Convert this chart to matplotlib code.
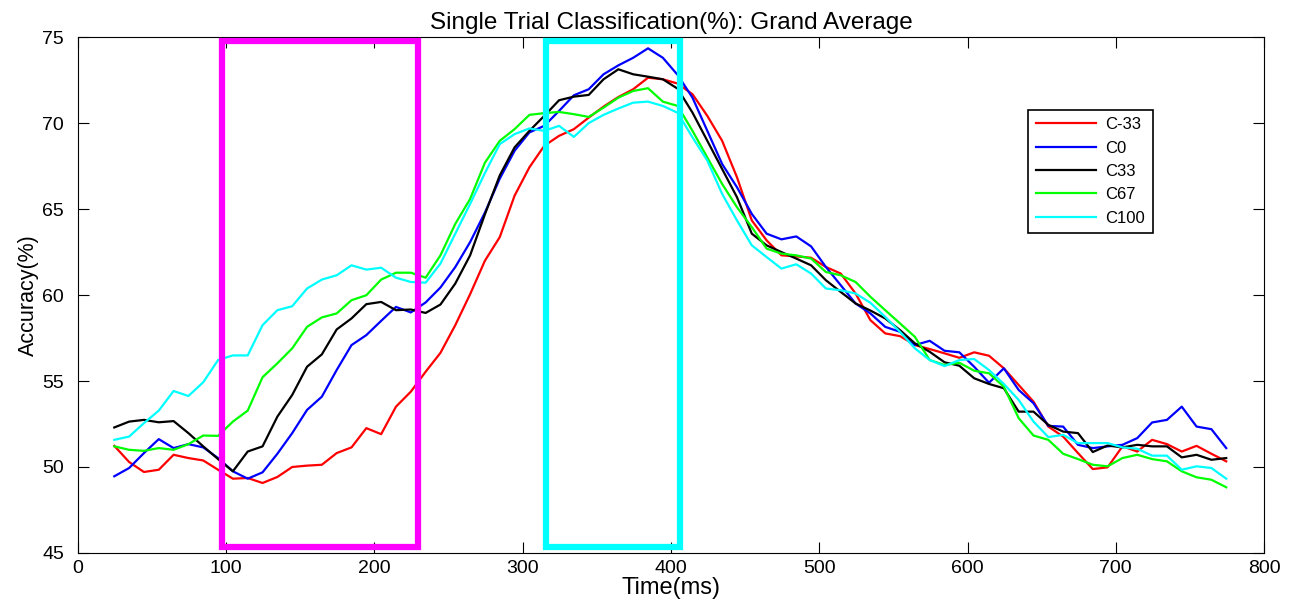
#!/usr/bin/env python

# import libraries
import numpy as np
import matplotlib
matplotlib.use("Agg")
import matplotlib.pyplot as plt
from matplotlib.patches import Rectangle

plt.rcParams['font.family'] = ['Liberation Sans', 'DejaVu Sans']

# time axis: 76 samples, 10 ms apart
time_ms = np.linspace(24.5, 774.5, 76)

# grand average accuracy (%) per condition
c_m33 = [51.23, 50.29, 49.71, 49.84, 50.71, 50.52, 50.38, 49.84, 49.32, 49.36, 49.07, 49.42, 50.0,
         50.08, 50.13, 50.81, 51.14, 52.26, 51.91, 53.51, 54.38, 55.54, 56.64, 58.25, 60.05, 62.0,
         63.37, 65.78, 67.43, 68.68, 69.26, 69.65, 70.32, 70.96, 71.52, 71.97, 72.64, 72.55, 72.3,
         71.68, 70.42, 68.97, 66.85, 64.34, 63.18, 62.31, 62.25, 62.17, 61.63, 61.25, 60.09, 58.54,
         57.77, 57.61, 57.09, 56.86, 56.61, 56.35, 56.67, 56.47, 55.74, 54.77, 53.8, 52.35,
         51.77, 50.81, 49.88, 49.98, 51.2, 50.9, 51.58, 51.33, 50.9, 51.23, 50.77, 50.33]
c_0 = [49.46, 49.94, 50.81, 51.62, 51.1, 51.33, 51.14, 50.52, 49.75, 49.32, 49.69, 50.77, 51.97,
       53.32, 54.09, 55.64, 57.09, 57.67, 58.5, 59.31, 58.99, 59.57, 60.44, 61.63, 63.08, 64.8,
       66.77, 68.39, 69.46, 69.84, 70.71, 71.62, 71.97, 72.84, 73.36, 73.8, 74.35, 73.8, 72.8,
       71.48, 69.55, 67.62, 66.27, 64.72, 63.57, 63.24, 63.41, 62.83, 61.63, 60.57, 59.51, 58.93,
       58.15, 57.86, 57.09, 57.34, 56.76, 56.67, 55.83, 54.9, 55.74, 54.48, 53.71, 52.39,
       52.35, 51.29, 51.1, 51.2, 51.29, 51.68, 52.59, 52.74, 53.51, 52.35, 52.2, 51.1]
c_33 = [52.3, 52.64, 52.74, 52.6, 52.67, 51.97, 51.2, 50.46, 49.75, 50.9, 51.2, 52.93, 54.19,
        55.83, 56.55, 58.0, 58.64, 59.47, 59.6, 59.12, 59.16, 58.96, 59.45, 60.67, 62.31, 64.7,
        66.96, 68.59, 69.55, 70.42, 71.33, 71.54, 71.64, 72.55, 73.13, 72.84, 72.7, 72.55, 72.0,
        70.61, 68.97, 67.33, 65.69, 63.57, 62.89, 62.5, 62.12, 61.73, 60.86, 60.18, 59.51, 59.1,
        58.64, 57.96, 57.19, 56.7, 56.09, 55.89, 55.16, 54.83, 54.58, 53.22, 53.22, 52.45,
        52.06, 51.97, 50.87, 51.25, 51.14, 51.29, 51.2, 51.2, 50.56, 50.71, 50.42, 50.52]
c_67 = [51.2, 51.0, 50.94, 51.1, 51.0, 51.33, 51.83, 51.81, 52.64, 53.28, 55.22, 56.03, 56.9,
        58.15, 58.7, 58.93, 59.7, 59.99, 60.9, 61.3, 61.3, 61.01, 62.31, 64.14, 65.59, 67.7,
        68.97, 69.65, 70.48, 70.58, 70.65, 70.52, 70.36, 70.9, 71.48, 71.87, 72.03, 71.25, 71.0,
        69.55, 68.0, 66.46, 65.11, 63.95, 62.7, 62.41, 62.31, 62.12, 61.34, 61.15, 60.76, 59.9,
        59.12, 58.35, 57.57, 56.22, 55.93, 56.06, 55.6, 55.45, 54.67, 52.84, 51.83, 51.58,
        50.77, 50.46, 50.13, 50.04, 50.52, 50.71, 50.46, 50.33, 49.75, 49.4, 49.26, 48.82]
c_100 = [51.58, 51.77, 52.55, 53.28, 54.42, 54.13, 54.93, 56.22, 56.49, 56.49, 58.25, 59.12, 59.35,
         60.38, 60.9, 61.15, 61.73, 61.48, 61.59, 61.01, 60.76, 60.72, 61.83, 63.57, 65.3, 67.1,
         68.78, 69.36, 69.69, 69.55, 69.84, 69.2, 70.0, 70.48, 70.85, 71.19, 71.25, 71.0, 70.6,
         69.17, 67.82, 65.88, 64.34, 62.89, 62.21, 61.54, 61.79, 61.25, 60.38, 60.28, 60.09, 59.55,
         58.73, 57.86, 56.9, 56.22, 55.87, 56.22, 56.28, 55.64, 54.83, 53.9, 52.64, 51.74,
         51.87, 51.39, 51.39, 51.39, 51.14, 51.06, 50.66, 50.66, 49.84, 50.04, 49.94, 49.32]

conditions = ["C-33", "C0", "C33", "C67", "C100"]
series = [c_m33, c_0, c_33, c_67, c_100]
colors = ["#ff0000", "#0000ff", "#000000", "#00ff00", "#00ffff"]

# highlighted time windows (ms) and accuracy span they cover
windows = [(96.9, 229.1), (315.9, 405.9)]
window_colors = ["#ff00ff", "#00ffff"]
window_acc = (45.36, 74.75)

fig = plt.figure(figsize=(12.93, 6.05), dpi=100)
ax = fig.add_axes([0.0603, 0.086, 0.9173, 0.8526])

for vals, col, name in zip(series, colors, conditions):
    ax.plot(time_ms, vals, color=col, linewidth=1.6, label=name)

# windows of interest
for (t0, t1), col in zip(windows, window_colors):
    ax.add_patch(Rectangle((t0, window_acc[0]), t1 - t0, window_acc[1] - window_acc[0],
                           fill=False, edgecolor=col, linewidth=4.5, clip_on=False, zorder=5))

ax.set_xlim(0, 800)
ax.set_ylim(45, 75)
ax.set_xticks(np.arange(0, 801, 100))
ax.set_yticks(np.arange(45, 76, 5))
ax.tick_params(direction='in', top=True, right=True, length=8, width=0.8, labelsize=14)
ax.tick_params(axis='x', pad=5)
ax.tick_params(axis='y', pad=10)
for sp in ax.spines.values():
    sp.set_linewidth(0.8)

ax.set_title("Single Trial Classification(%): Grand Average", fontsize=17.5, pad=6)
ax.set_xlabel("Time(ms)", fontsize=17, labelpad=0)
ax.set_ylabel("Accuracy(%)", fontsize=15.5, labelpad=2)

leg = ax.legend(loc='upper left', bbox_to_anchor=(0.801, 0.8594), borderaxespad=0,
                fontsize=12, handlelength=3.6, handletextpad=0.6, labelspacing=0.5,
                fancybox=False, framealpha=1, edgecolor='black', borderpad=0.45)
leg.get_frame().set_linewidth(1.2)

plt.savefig("out.png", dpi=100)
